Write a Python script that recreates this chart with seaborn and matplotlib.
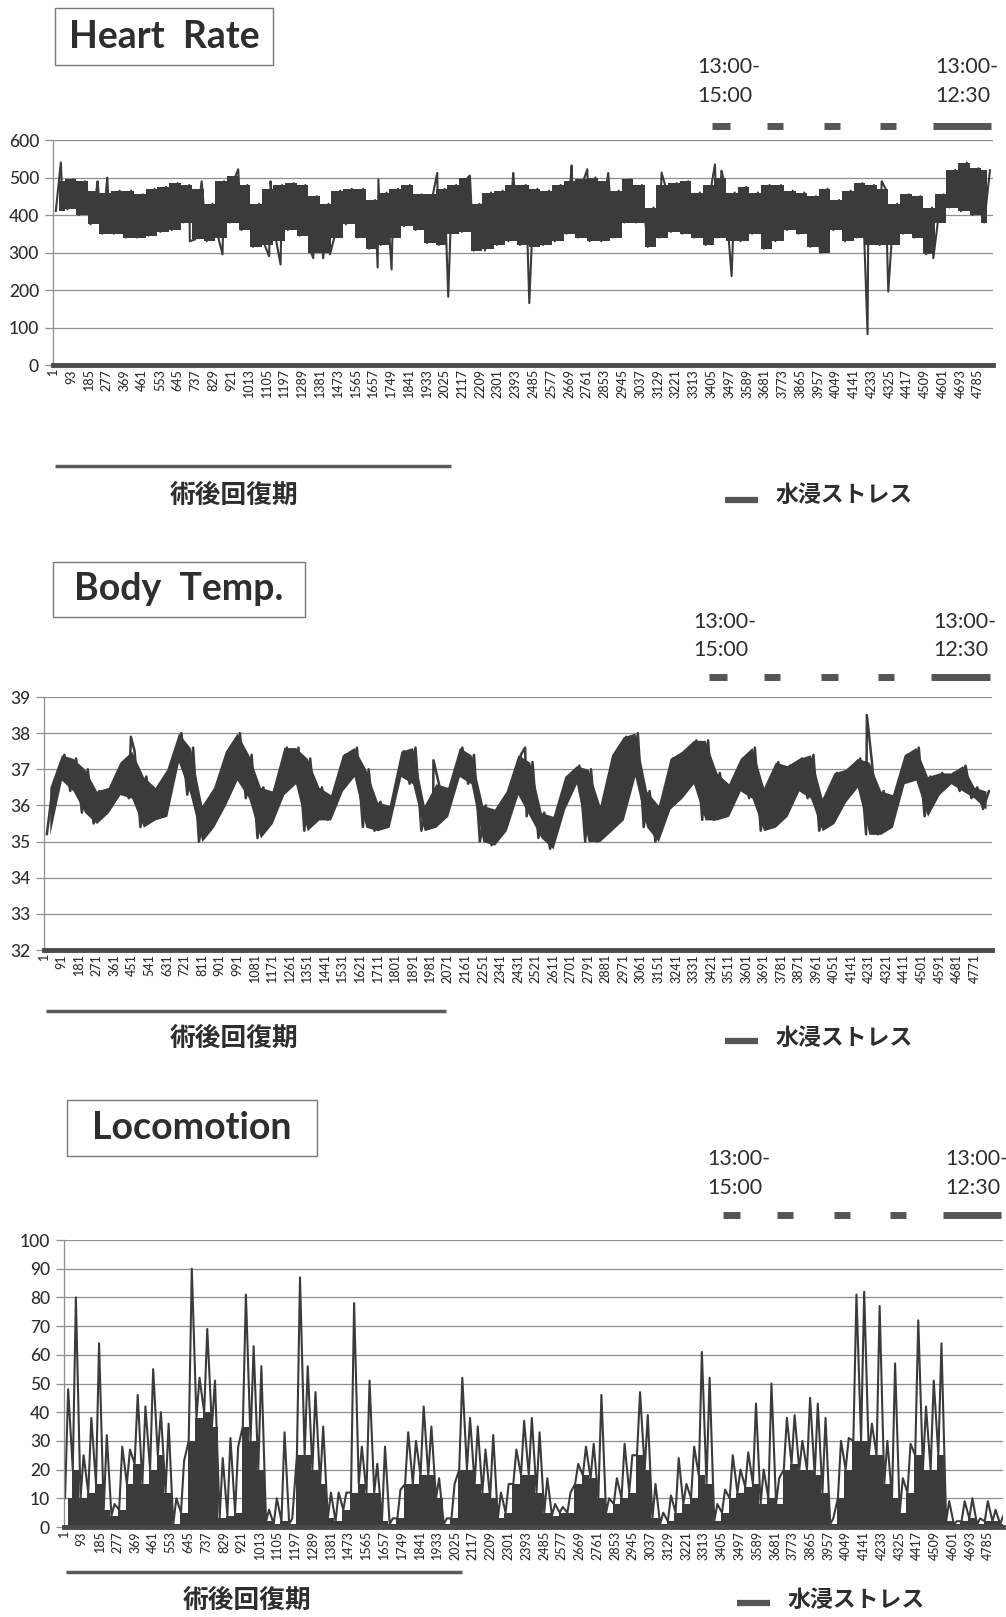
import matplotlib
matplotlib.use('Agg')
import matplotlib.pyplot as plt
import matplotlib.transforms as mtransforms
from matplotlib.patches import Rectangle
import pandas as pd
import seaborn as sns

sns.set_theme(style='white')
plt.rcParams['font.family'] = ['Lato', 'Noto Sans CJK JP', 'DejaVu Sans']

N = 4860  # samples on the category axis

# ---- heart rate: dense band per 60-sample bin, plus single spikes
hr_bin = 60
hr_lo = [410, 415, 400, 375, 350, 350, 340, 340, 345, 355,
         360, 380, 335, 330, 340, 380, 360, 315, 320, 330,
         360, 345, 300, 300, 340, 375, 340, 310, 320, 340,
         370, 360, 325, 320, 350, 355, 305, 310, 320, 330,
         320, 315, 320, 330, 350, 340, 330, 330, 340, 380,
         380, 315, 340, 355, 350, 340, 320, 340, 330, 330,
         350, 310, 330, 360, 350, 315, 300, 360, 330, 340,
         320, 320, 320, 350, 340, 295, 380, 420, 410, 400,
         380]
hr_hi = [490, 495, 490, 465, 460, 465, 465, 455, 470, 475,
         485, 480, 470, 430, 490, 505, 480, 430, 470, 480,
         485, 480, 450, 430, 465, 470, 470, 440, 460, 470,
         480, 455, 455, 470, 480, 500, 430, 460, 465, 480,
         480, 470, 465, 480, 490, 495, 500, 490, 465, 495,
         480, 420, 480, 485, 490, 460, 480, 500, 460, 475,
         460, 480, 480, 465, 460, 450, 470, 440, 465, 485,
         480, 470, 430, 455, 450, 420, 455, 520, 540, 525,
         520]
hr_spike_x = [41, 231, 281, 708, 769, 877, 958, 1118, 1125, 1177,
              1346, 1397, 1432, 1679, 1683, 1751, 1987, 2044, 2156, 2234,
              2380, 2463, 2682, 2763, 2871, 3147, 3423, 3457, 3509, 3966,
              4212, 4285, 4319, 4552]
hr_spike_y = [540, 490, 500, 330, 490, 295, 522, 290, 490, 268,
              285, 285, 295, 260, 495, 255, 512, 182, 505, 305,
              512, 165, 532, 522, 512, 513, 535, 518, 237, 300,
              82, 490, 196, 285]

# ---- body temperature
bt_bin = 60
bt_lo = [35.2, 36.7, 36.4, 35.8, 35.5, 35.8, 36.3, 36.2, 35.4, 35.6,
         35.7, 37.2, 36.3, 35.0, 35.4, 36.0, 36.7, 36.2, 35.1, 35.5,
         36.3, 36.6, 35.3, 35.6, 35.6, 36.4, 36.8, 35.4, 35.3, 35.4,
         36.8, 36.6, 35.3, 35.4, 35.7, 36.8, 36.6, 35.0, 34.9, 35.3,
         36.3, 35.7, 35.1, 34.8, 35.9, 36.6, 35.0, 35.0, 35.3, 35.6,
         36.8, 35.4, 35.0, 35.9, 36.2, 36.6, 35.6, 35.6, 35.7, 36.4,
         36.2, 35.3, 35.4, 35.7, 36.4, 36.2, 35.3, 35.5, 36.1, 36.5,
         35.2, 35.2, 35.4, 36.6, 36.7, 35.7, 36.3, 36.6, 36.4, 36.2,
         35.9]
bt_hi = [36.5, 37.4, 37.3, 37.0, 36.4, 36.5, 37.2, 37.5, 36.8, 36.5,
         37.0, 38.0, 37.6, 36.0, 36.5, 37.5, 38.0, 37.4, 36.5, 36.4,
         37.6, 37.6, 37.3, 36.5, 36.3, 37.4, 37.6, 37.0, 36.1, 36.0,
         37.5, 37.6, 36.0, 36.6, 36.5, 37.6, 37.4, 36.0, 35.9, 36.4,
         37.4, 37.2, 35.8, 35.7, 36.8, 37.1, 37.0, 36.0, 37.4, 37.9,
         38.0, 36.4, 36.0, 37.3, 37.5, 37.8, 37.8, 36.9, 36.6, 37.3,
         37.6, 36.5, 37.2, 37.1, 37.3, 37.4, 36.2, 36.9, 37.0, 37.3,
         37.2, 36.4, 36.3, 37.4, 37.6, 36.8, 36.9, 36.9, 37.1, 36.5,
         36.4]
bt_spike_x = [446, 1997, 2467, 4219]
bt_spike_y = [37.9, 37.25, 37.6, 38.5]

# ---- locomotion: solid part and peak per 40-sample bin
lc_bin = 40
lc_body = [10, 20, 10, 12, 15, 6, 4, 6, 15, 22,
           15, 20, 25, 12, 1, 5, 30, 38, 40, 35,
           3, 4, 5, 35, 30, 20, 2, 1, 2, 1,
           25, 25, 20, 15, 3, 2, 6, 12, 15, 12,
           12, 2, 1, 3, 15, 15, 18, 18, 10, 1,
           3, 20, 20, 15, 12, 10, 3, 5, 15, 18,
           18, 12, 5, 4, 5, 5, 15, 18, 17, 10,
           5, 8, 10, 12, 25, 20, 3, 1, 2, 5,
           8, 10, 18, 15, 2, 5, 10, 12, 14, 15,
           8, 10, 8, 20, 22, 20, 20, 18, 12, 1,
           10, 20, 30, 30, 25, 25, 15, 10, 5, 12,
           25, 20, 20, 25, 2, 1, 2, 3, 1, 2,
           2, 1]
lc_hi = [48, 80, 25, 38, 64, 32, 8, 28, 27, 46,
         42, 55, 40, 36, 10, 23, 90, 52, 69, 51,
         24, 31, 28, 81, 63, 56, 6, 10, 33, 3,
         87, 56, 47, 35, 12, 12, 12, 78, 28, 51,
         22, 28, 3, 13, 33, 30, 42, 35, 17, 3,
         15, 52, 38, 35, 27, 32, 12, 15, 27, 37,
         38, 33, 17, 8, 7, 12, 22, 28, 29, 46,
         10, 17, 29, 25, 47, 39, 15, 5, 11, 24,
         15, 28, 61, 52, 8, 13, 25, 20, 26, 43,
         20, 50, 17, 38, 39, 30, 45, 43, 38, 3,
         30, 31, 81, 82, 36, 77, 30, 57, 17, 29,
         72, 42, 51, 64, 9, 2, 9, 10, 3, 9,
         6, 4]

# periods (sample index)
recovery = (10, 2060)
stress_start = [3410, 3690, 3985, 4275, 4550]
stress_end = [3500, 3775, 4070, 4360, 4850]

W, H = 1006, 1617
INK = '#3b3b3b'
GRID = '#8e8e8e'
TXT = '#2e2e2e'
JP = ['Noto Sans CJK JP', 'DejaVu Sans']

fig = plt.figure(figsize=(W / 100, H / 100), dpi=100)


def fy(py):
    return 1 - py / H


def zigzag(lo, hi, width, lo_at, hi_at, sx=(), sy=()):
    xs, ys = [], []
    for k in range(len(lo)):
        xs += [k * width + lo_at, k * width + hi_at]
        ys += [lo[k], hi[k]]
    xs += list(sx)
    ys += list(sy)
    return pd.DataFrame({'x': xs, 'y': ys}).sort_values('x')


def panel(box, ylim, yticks, xticks, title, tbox, ann, leg_x, txt_x):
    l, t, r, b = box
    ax = fig.add_axes([l / W, fy(b), (r - l) / W, (b - t) / H])
    ax.set_xlim(0.5, N + 0.5)
    ax.set_ylim(*ylim)
    ax.set_yticks(yticks)
    ax.set_xticks(xticks)
    ax.set_xticklabels([str(v) for v in xticks], rotation=90, fontsize=9,
                       color=TXT, fontweight=500)
    ax.set_yticklabels([str(v) for v in yticks], fontsize=12.5, color=TXT,
                       fontweight=500)
    ax.tick_params(axis='x', length=0, pad=3)
    ax.tick_params(axis='y', length=6, color=GRID, width=0.9, pad=4,
                   left=True)
    ax.grid(axis='y', color=GRID, lw=0.9)
    ax.grid(axis='x', visible=False)
    ax.set_axisbelow(True)
    for s in ('top', 'right'):
        ax.spines[s].set_visible(False)
    ax.spines['left'].set_color(GRID)
    ax.spines['left'].set_linewidth(0.9)
    ax.spines['bottom'].set_color('#4a4a4a')
    ax.spines['bottom'].set_linewidth(3.5)

    # title box
    x0, y0, x1, y1 = tbox
    fig.add_artist(Rectangle((x0 / W, fy(y1)), (x1 - x0) / W, (y1 - y0) / H,
                             transform=fig.transFigure, fill=False,
                             ec='#7a7a7a', lw=1.0))
    fig.text((x0 + x1) / 2 / W, fy((y0 + y1) / 2), title, ha='center',
             va='center', fontsize=27, fontweight='bold', color=TXT)

    # stress periods above the plot
    tr = mtransforms.blended_transform_factory(ax.transData, fig.transFigure)
    y_t1, y_t2, y_dash, y_rec, y_rtxt, y_leg = ann
    for xs, top, bot in ((3330, '13:00-', '15:00'), (4560, '13:00-', '12:30')):
        ax.text(xs, fy(y_t1), top, transform=tr, ha='left', va='center',
                fontsize=15.5, color=TXT, clip_on=False)
        ax.text(xs, fy(y_t2), bot, transform=tr, ha='left', va='center',
                fontsize=15.5, color=TXT, clip_on=False)
    for s0, s1 in zip(stress_start, stress_end):
        ax.plot([s0, s1], [fy(y_dash)] * 2, transform=tr, color='#555555',
                lw=5, solid_capstyle='butt', clip_on=False)

    # recovery period below
    ax.plot(recovery, [fy(y_rec)] * 2, transform=tr, color='#5a5a5a', lw=2.5,
            solid_capstyle='butt', clip_on=False)
    fig.text(txt_x / W, fy(y_rtxt), '術後回復期', ha='center', va='center',
             fontsize=18.5, fontweight='bold', color=TXT, family=JP)
    fig.add_artist(plt.Line2D([leg_x / W, (leg_x + 33) / W],
                              [fy(y_leg)] * 2, transform=fig.transFigure,
                              color='#555555', lw=4.5,
                              solid_capstyle='butt'))
    fig.text((leg_x + 51) / W, fy(y_rtxt), '水浸ストレス', ha='left',
             va='center', fontsize=16.5, fontweight='bold', color=TXT,
             family=JP)
    return ax


# ---------------- Heart Rate
ax1 = panel((53, 140, 993, 365), (0, 600), list(range(0, 601, 100)),
            list(range(1, N + 1, 92)), 'Heart  Rate', (55, 8, 273, 65),
            (67, 96, 126, 466, 495, 500), 725, 234)
centers = [k * hr_bin + hr_bin / 2 for k in range(len(hr_lo))]
ax1.fill_between(centers, hr_lo, hr_hi, color=INK, lw=0, step='mid')
df = zigzag(hr_lo, hr_hi, hr_bin, 15, 45, hr_spike_x, hr_spike_y)
sns.lineplot(data=df, x='x', y='y', ax=ax1, color=INK, lw=1.5, sort=False,
             estimator=None)

# ---------------- Body Temp.
ax2 = panel((44, 697, 992, 950), (32, 39), list(range(32, 40)),
            list(range(1, N + 1, 90)), 'Body  Temp.', (53, 562, 305, 617),
            (622, 650, 677, 1011, 1038, 1041), 725, 234)
centers = [k * bt_bin + bt_bin / 2 for k in range(len(bt_lo))]
ax2.fill_between(centers, bt_lo, bt_hi, color=INK, lw=0)
df = zigzag(bt_lo, bt_hi, bt_bin, 15, 45, bt_spike_x, bt_spike_y)
sns.lineplot(data=df, x='x', y='y', ax=ax2, color=INK, lw=1.8, sort=False,
             estimator=None)

# ---------------- Locomotion
ax3 = panel((64, 1240, 1003, 1527), (0, 100), list(range(0, 101, 10)),
            list(range(1, N + 1, 92)), 'Locomotion', (67, 1100, 317, 1156),
            (1159, 1188, 1215, 1572, 1600, 1603), 737, 247)
centers = [k * lc_bin + lc_bin / 2 for k in range(len(lc_body))]
ax3.fill_between(centers, 0, lc_body, color=INK, lw=0, step='mid')
df = zigzag(lc_body, lc_hi, lc_bin, 6, 22)
sns.lineplot(data=df, x='x', y='y', ax=ax3, color=INK, lw=1.5, sort=False,
             estimator=None)

for ax in (ax1, ax2, ax3):
    ax.set_xlim(0.5, N + 0.5)
    ax.set_xlabel('')
    ax.set_ylabel('')

fig.savefig('out.png', dpi=100)
